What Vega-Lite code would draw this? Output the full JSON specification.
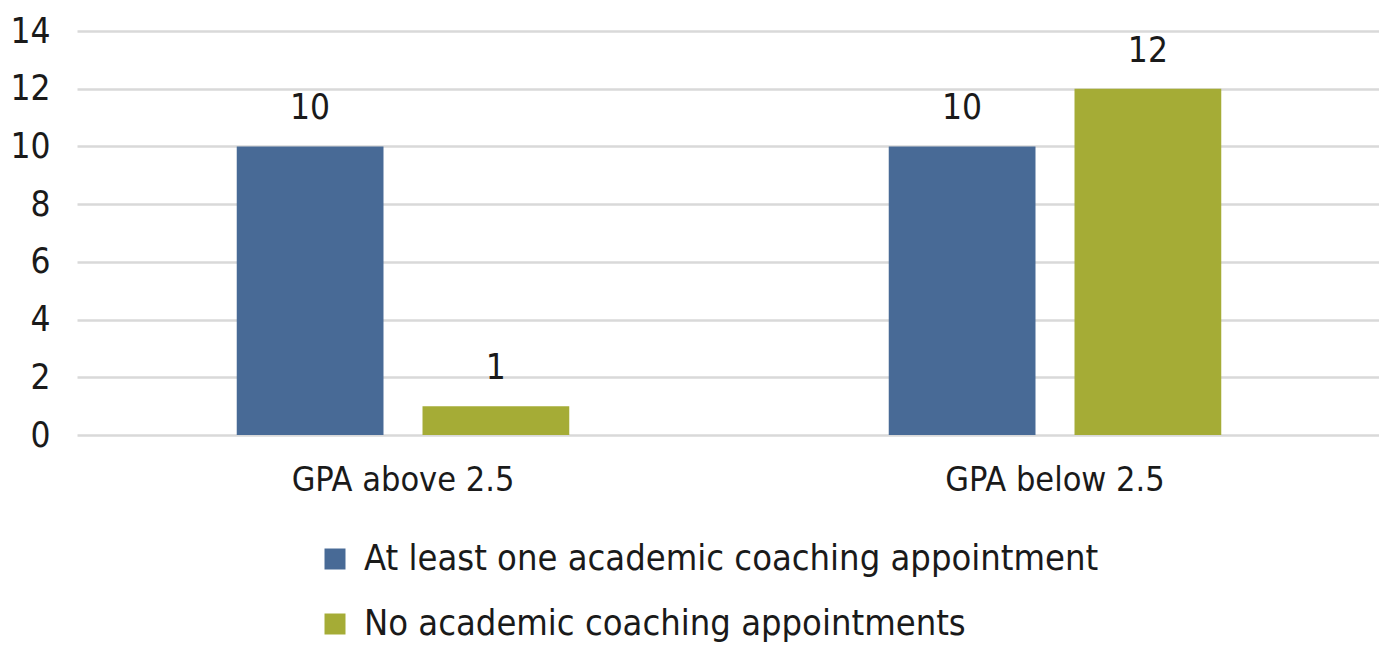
{
  "$schema": "https://vega.github.io/schema/vega-lite/v6.json",
  "width": 1304,
  "height": 404,
  "autosize": {"type": "none"},
  "padding": {"left": 77, "top": 31, "right": 0, "bottom": 211},
  "background": "white",
  "config": {
    "font": "DejaVu Sans Condensed, Roboto, sans-serif",
    "view": {"stroke": null},
    "axis": {"labelFont": "DejaVu Sans Condensed, Roboto, sans-serif", "labelColor": "#1a1a1a"},
    "legend": {"labelFont": "DejaVu Sans Condensed, Roboto, sans-serif"}
  },
  "data": {
    "values": [
      {"group": "GPA above 2.5", "series": "At least one academic coaching appointment", "count": 10},
      {"group": "GPA above 2.5", "series": "No academic coaching appointments", "count": 1},
      {"group": "GPA below 2.5", "series": "At least one academic coaching appointment", "count": 10},
      {"group": "GPA below 2.5", "series": "No academic coaching appointments", "count": 12}
    ]
  },
  "encoding": {
    "x": {
      "field": "group", "type": "nominal", "sort": null,
      "scale": {"paddingInner": 0.49, "paddingOuter": 0.245},
      "axis": {"title": null, "labelAngle": 0, "labelFontSize": 34, "labelPadding": 28, "labelLimit": 1000, "ticks": false, "domain": false, "grid": false}
    },
    "xOffset": {"field": "series", "type": "nominal", "sort": null, "scale": {"paddingInner": 0.21, "paddingOuter": 0}},
    "y": {
      "field": "count", "type": "quantitative",
      "scale": {"domain": [0, 14], "nice": false},
      "axis": {"title": null, "values": [0, 2, 4, 6, 8, 10, 12, 14], "labelFontSize": 35, "labelPadding": 27, "ticks": false, "domain": false, "gridColor": "#d9d9d9", "gridWidth": 2.5}
    }
  },
  "layer": [
    {
      "mark": {"type": "bar"},
      "encoding": {
        "color": {
          "field": "series", "type": "nominal", "sort": null,
          "scale": {"range": ["#486A96", "#A5AC36"]},
          "legend": {
            "title": null, "orient": "none", "legendX": 240, "legendY": 510,
            "direction": "vertical", "symbolType": "square", "symbolSize": 441,
            "symbolStrokeWidth": 0, "labelFontSize": 36, "labelColor": "#1a1a1a",
            "labelOffset": 11, "rowPadding": 29, "labelLimit": 1000
          }
        }
      }
    },
    {
      "mark": {"type": "text", "baseline": "alphabetic", "dy": -27, "fontSize": 35, "color": "#1a1a1a", "font": "DejaVu Sans Condensed, Roboto, sans-serif"},
      "encoding": {"text": {"field": "count", "type": "quantitative"}}
    }
  ]
}
